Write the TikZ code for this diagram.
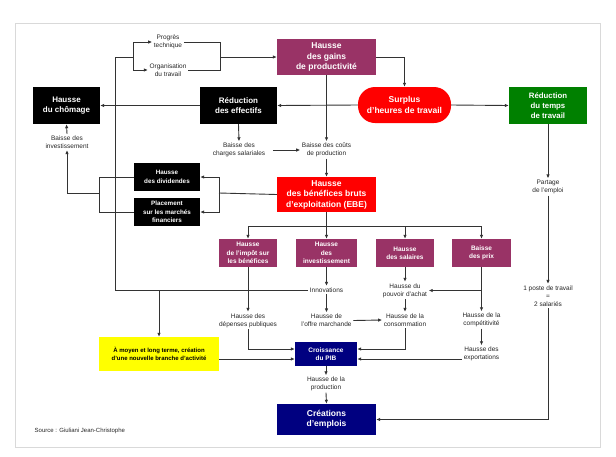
\documentclass[tikz,border=0pt]{standalone}
\usepackage{fontspec}
\setmainfont{Liberation Sans}
\usetikzlibrary{arrows.meta}
\newcommand\myfs[2]{\fontsize{#1}{#2}\selectfont}
\definecolor{purp}{HTML}{993366}
\definecolor{rred}{HTML}{FF0000}
\definecolor{ggreen}{HTML}{008000}
\definecolor{navy}{HTML}{000080}
\definecolor{yyellow}{HTML}{FFFF00}
\tikzset{
  txt/.style={inner sep=1.5pt, align=center, font=\myfs{6.5}{8}, text=black!85},
  bx/.style={inner sep=0pt, align=center, text=white, font=\bfseries\myfs{6.5}{8.3}},
  bigbx/.style={bx, font=\bfseries\myfs{8.5}{10.5}},
  midbx/.style={bx, font=\bfseries\myfs{8}{10.5}},
  ln/.style={draw=black!80, line width=0.9pt},
  arr/.style={ln, -{Latex[length=4pt,width=3.5pt]}}
}
\begin{document}
\begin{tikzpicture}[x=1pt,y=-1pt]
\useasboundingbox (0,0) rectangle (616,456);
\draw[black!15, line width=0.8pt] (15,23) rectangle (600,447);

% top
\node[txt] (prog) at (168,42) {Progrès\\technique};
\node[txt] (org) at (168,70) {Organisation\\du travail};
\node[bigbx, fill=purp, minimum width=99pt, minimum height=36pt] (prod) at (326.5,57) {Hausse\\des gains\\de productivité};
\node[bigbx, fill=rred, minimum width=93pt, minimum height=36pt, rounded corners=17pt] (surp) at (404.5,105) {Surplus\\d'heures de travail};
\node[midbx, fill=black, minimum width=77pt, minimum height=37pt] (reduc) at (238.5,105.5) {Réduction\\des effectifs};
\node[midbx, fill=black, minimum width=67pt, minimum height=37pt] (chom) at (66.5,105.5) {Hausse\\du chômage};
\node[midbx, fill=ggreen, minimum width=78pt, minimum height=37pt, font=\bfseries\myfs{7.8}{10}] (rtt) at (548,105.5) {Réduction\\du temps\\de travail};

\node[txt] (binv) at (67,142) {Baisse des\\investissement};
\node[txt] (charg) at (239,150) {Baisse des\\charges salariales};
\node[txt] (couts) at (326.5,150) {Baisse des coûts\\de production};
\node[txt] (part) at (548,187) {Partage\\de l'emploi};
\node[txt] (poste) at (548,296) {1 poste de travail\\=\\2 salariés};

\node[bx, fill=black, minimum width=66pt, minimum height=28pt, font=\bfseries\myfs{6.3}{8.3}] (divid) at (167,177) {Hausse\\des dividendes};
\node[bx, fill=black, minimum width=66pt, minimum height=28pt, font=\bfseries\myfs{6.3}{8.3}] (place) at (167,212) {Placement\\sur les marchés\\financiers};
\node[bigbx, fill=rred, minimum width=99pt, minimum height=35pt] (ebe) at (326.5,194.5) {Hausse\\des bénéfices bruts\\d'exploitation (EBE)};

\node[bx, fill=purp, minimum width=58pt, minimum height=28pt] (b1) at (248,253) {Hausse\\de l'impôt sur\\les bénéfices};
\node[bx, fill=purp, minimum width=61pt, minimum height=28pt] (b2) at (326.5,253) {Hausse\\des\\investissement};
\node[bx, fill=purp, minimum width=58pt, minimum height=28pt] (b3) at (405,253) {Hausse\\des salaires};
\node[bx, fill=purp, minimum width=59pt, minimum height=28pt] (b4) at (481.5,253) {Baisse\\des prix};

\node[txt] (innov) at (326.5,290) {Innovations};
\node[txt] (pouv) at (405,290.5) {Hausse du\\pouvoir d'achat};
\node[txt] (dep) at (248,320.5) {Hausse des\\dépenses publiques};
\node[txt] (offre) at (326.5,320.5) {Hausse de\\l'offre marchande};
\node[txt] (conso) at (405,320) {Hausse de la\\consommation};
\node[txt] (compet) at (481.5,320) {Hausse de la\\compétitivité};
\node[txt] (expo) at (481.5,354) {Hausse des\\exportations};

\node[bx, fill=yyellow, text=black, minimum width=120pt, minimum height=34pt, font=\bfseries\myfs{6}{8.3}] (yel) at (159,354) {À moyen et long terme, création\\d'une nouvelle branche d'activité};
\node[bx, fill=navy, minimum width=62pt, minimum height=24pt] (crois) at (326,354) {Croissance\\du PIB};
\node[txt] (prodn) at (326,384) {Hausse de la\\production};
\node[bigbx, fill=navy, minimum width=99pt, minimum height=31pt] (creat) at (326.5,419.5) {Créations\\d'emplois};

\node[txt, anchor=west, font=\myfs{6}{8}] (src) at (33,431) {Source : Giuliani Jean-Christophe};

% coordinates
\coordinate (lc) at (115,57);
\coordinate (fk) at (133,57);
\coordinate (rb) at (220,57);
\coordinate (bk) at (99,193);
\coordinate (ebk) at (219,193);
\coordinate (eb) at (326.5,226);
\coordinate (cl) at ([yshift=-5pt]crois.west);
\coordinate (cu) at ([yshift=5pt]crois.west);
\coordinate (cr) at ([yshift=-5pt]crois.east);
\coordinate (cru) at ([yshift=5pt]crois.east);

% connectors
\draw[ln] (innov.west) -| (lc) -- (fk);
\draw[arr] (fk) |- (prog.west);
\draw[arr] (fk) |- (org.west);
\draw[ln] (prog.east) -| (rb);
\draw[ln] (org.east) -| (rb);
\draw[arr] (rb) -- (prod.west);
\draw[arr] (prod.east) -| (surp.north);
\draw[arr] (prod.south) -- (couts.north);
\draw[arr] (surp.west) -- (reduc.east);
\draw[arr] (reduc.west) -- (chom.east);
\draw[arr] (surp.east) -- (rtt.west);
\draw[arr] (rtt.south) -- (part.north);
\draw[arr] (part.south) -- (poste.north);
\draw[arr] (poste.south) |- (creat.east);
\draw[arr] (reduc.south) -- (charg.north);
\draw[arr] ([xshift=6pt]charg.east) -- (couts.west);
\draw[arr] (binv.north) -- (chom.south);
\draw[ln] (divid.west) -| (bk);
\draw[ln] (place.west) -| (bk);
\draw[arr] (bk) -| (binv.south);
\draw[ln] (ebe.west) -- (ebk);
\draw[arr] (ebk) |- (divid.east);
\draw[arr] (ebk) |- (place.east);
\draw[arr] (couts.south) -- (ebe.north);
\draw[ln] (ebe.south) -- (eb);
\draw[arr] (eb) -| (b1.north);
\draw[arr] (eb) -| (b4.north);
\draw[arr] (eb) -- (b2.north);
\draw[arr] (b3.north |- eb) -- (b3.north);
\draw[arr] (b1.south) -- (dep.north);
\draw[arr] (dep.south) |- (cu);
\draw[arr] (yel.east |- cl) -- (cl);
\draw[arr] (yel.north |- innov) -- (yel.north);
\draw[arr] (b2.south) -- (innov.north);
\draw[arr] (innov.south) -- (offre.north);
\draw[arr] (offre.east) -- (conso.west);
\draw[arr] (b3.south) -- (pouv.north);
\draw[arr] (pouv.south) -- (conso.north);
\draw[arr] (conso.south) |- (cru);
\draw[arr] (b4.south) -- (compet.north);
\draw[arr] (b4.south |- pouv) -- (pouv.east);
\draw[arr] (compet.south) -- (expo.north);
\draw[arr] (expo.west |- cr) -- (cr);
\draw[arr] (crois.south) -- (prodn.north);
\draw[arr] (prodn.south) -- (creat.north);
\end{tikzpicture}
\end{document}
